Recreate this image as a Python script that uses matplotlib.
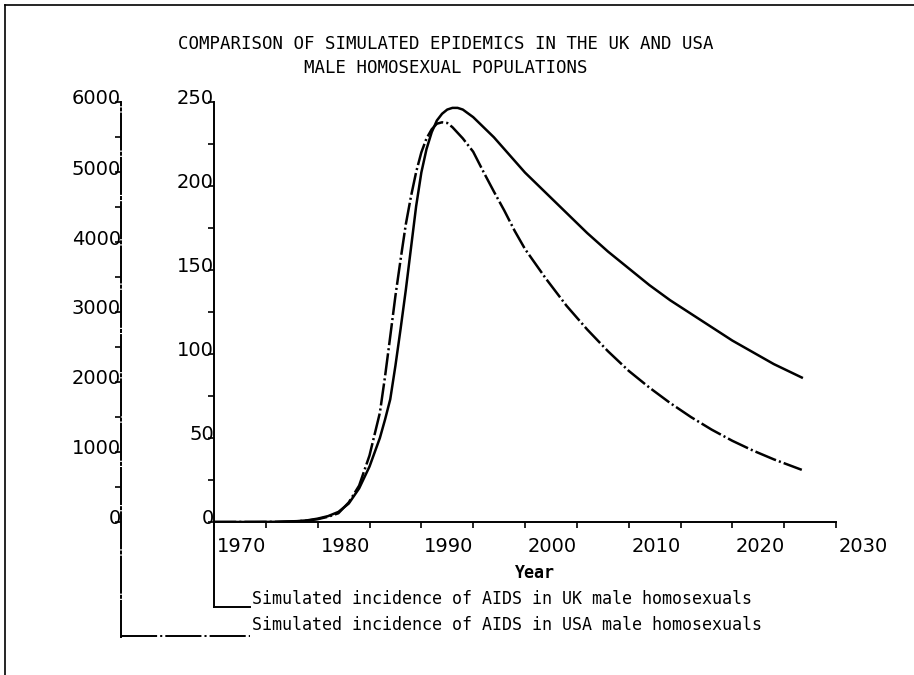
import matplotlib
matplotlib.use("Agg")
import matplotlib.pyplot as plt
from matplotlib.transforms import ScaledTranslation
from matplotlib.lines import Line2D

# Simulated AIDS incidence
uk_years = [1970, 1974, 1976, 1978, 1979, 1980, 1981, 1982, 1983, 1984, 1985, 1986, 1986.5,
            1987, 1987.5, 1988, 1988.5, 1989, 1989.5, 1990, 1990.5, 1991, 1991.5, 1992, 1992.5,
            1993, 1993.5, 1994, 1995, 1996, 1997, 1998, 2000, 2002, 2004, 2006, 2008, 2010,
            2012, 2014, 2016, 2018, 2020, 2022, 2024, 2026.7]
uk_cases = [0, 0, 0.1, 0.5, 1, 2, 3.5, 6, 11, 20, 33, 50, 61,
            73, 93, 115, 138, 163, 188, 208, 222, 232, 239, 243, 245.5,
            246.5, 246.5, 245.5, 241, 235, 229, 222, 208, 196, 184, 172, 161, 151,
            141, 132, 124, 116, 108, 101, 94, 86]

usa_years = [1970, 1976, 1978, 1979, 1980, 1981, 1982, 1983, 1984, 1985, 1986, 1986.5, 1987,
             1987.5, 1988, 1988.5, 1989, 1989.5, 1990, 1990.5, 1991, 1991.5, 1992, 1992.5, 1993,
             1994, 1995, 1996, 1997, 1998, 1999, 2000, 2002, 2004, 2006, 2008, 2010, 2012,
             2014, 2016, 2018, 2020, 2022, 2024, 2026.7]
usa_cases = [0, 2, 10, 20, 40, 75, 125, 280, 520, 950, 1560, 2080, 2650,
             3230, 3750, 4250, 4650, 5000, 5280, 5480, 5610, 5690, 5710, 5700, 5640,
             5480, 5290, 5000, 4720, 4450, 4160, 3900, 3480, 3090, 2750, 2440, 2160, 1920,
             1700, 1500, 1320, 1160, 1020, 895, 745]

uk_ticks = [0, 50, 100, 150, 200, 250]
usa_ticks = [0, 1000, 2000, 3000, 4000, 5000, 6000]
year_ticks = [1970, 1980, 1990, 2000, 2010, 2020, 2030]

title = "COMPARISON OF SIMULATED EPIDEMICS IN THE UK AND USA\nMALE HOMOSEXUAL POPULATIONS"
uk_label = "Simulated incidence of AIDS in UK male homosexuals"
usa_label = "Simulated incidence of AIDS in USA male homosexuals"

plt.rcParams['lines.scale_dashes'] = False
dashdot = (0, (16, 2.2, 1.5, 2.2))
long_dashdot = (0, (26, 2.2, 1.5, 2.2))
mono = "DejaVu Sans Mono"

W, H = 914, 675
fig = plt.figure(figsize=(W / 100, H / 100), dpi=100)
ax = fig.add_axes([214 / W, 1 - 522 / H, 622 / W, 420 / H])
ax2 = ax.twinx()

# curves
ax.plot(uk_years, uk_cases, color="black", lw=1.8)
ax2.plot(usa_years, usa_cases, color="black", lw=1.8, linestyle=dashdot)

ax.set_xlim(1970, 2030)
ax.set_ylim(0, 250)
ax2.set_ylim(0, 6000)

# inner (UK) axis
for s in ["top", "right"]:
    ax.spines[s].set_visible(False)
ax.spines["left"].set_bounds(-50.6, 250)
ax.spines["left"].set_linewidth(1.4)
ax.spines["bottom"].set_linewidth(1.4)
ax.set_yticks(uk_ticks)
ax.set_yticks(range(25, 250, 50), minor=True)
ax.set_xticks(year_ticks)
ax.set_xticks(range(1975, 2030, 10), minor=True)
ax.tick_params(axis="y", which="both", direction="out", length=4.5, width=1.2, pad=-4.5,
               labelsize=14)
ax.tick_params(axis="x", which="both", direction="out", length=4.5, width=1.2, pad=6,
               labelsize=14)

# outer (USA) axis
for s in ["top", "right", "bottom"]:
    ax2.spines[s].set_visible(False)
ax2.spines["left"].set_visible(True)
ax2.spines["left"].set_position(("axes", (121 - 214) / 622))
ax2.spines["left"].set_bounds(-1640, 6000)
ax2.spines["left"].set_linestyle(long_dashdot)
ax2.spines["left"].set_linewidth(1.4)
ax2.yaxis.set_ticks_position("left")
ax2.set_yticks(usa_ticks)
ax2.set_yticks(range(500, 6000, 1000), minor=True)
ax2.tick_params(axis="y", which="both", direction="out", length=4.5, width=1.2, pad=-4.5,
                labelsize=14)

# labels sit just above their tick, x labels start at the tick
up = ScaledTranslation(0, 5 / 100, fig.dpi_scale_trans)
for lab in ax.get_yticklabels() + ax2.get_yticklabels():
    lab.set_transform(lab.get_transform() + up)
right = ScaledTranslation(3 / 100, 0, fig.dpi_scale_trans)
for lab in ax.get_xticklabels():
    lab.set_horizontalalignment("left")
    lab.set_transform(lab.get_transform() + right)

ax.text(0.516, -0.121, "Year", transform=ax.transAxes, ha="center", va="center",
        fontsize=12, family=mono, fontweight="bold")

# legend brackets
x_end = (250 - 214) / 622
ax.plot([0, x_end], [-0.2024, -0.2024], transform=ax.transAxes, color="black", lw=1.4,
        clip_on=False)
ax.plot([(121 - 214) / 622, x_end], [-0.271, -0.271], transform=ax.transAxes,
        color="black", lw=1.4, linestyle=long_dashdot, clip_on=False)
ax.text(x_end + 0.004, -0.195, uk_label, transform=ax.transAxes, ha="left",
        va="baseline", fontsize=12, family=mono)
ax.text(x_end + 0.004, -0.257, usa_label, transform=ax.transAxes, ha="left",
        va="baseline", fontsize=12, family=mono)

fig.text(446 / W, 1 - 56 / H, title, ha="center", va="center", fontsize=12.5,
         family=mono, linespacing=1.45)

# page frame
fig.add_artist(Line2D([5 / W, 5 / W], [0, 1 - 5 / H], color="black", lw=1.2))
fig.add_artist(Line2D([5 / W, 1], [1 - 5 / H, 1 - 5 / H], color="black", lw=1.2))

fig.savefig("out.png", dpi=100)
